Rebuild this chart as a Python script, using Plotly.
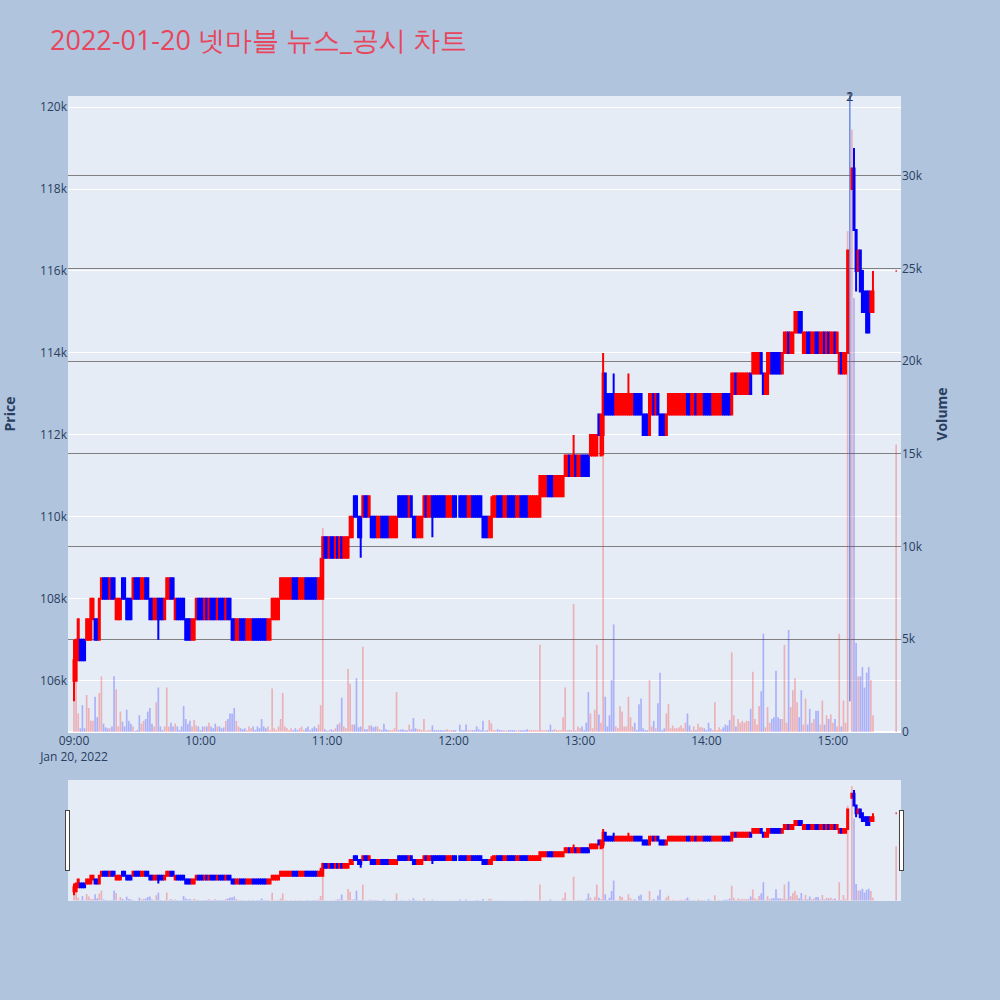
import pandas as pd
import plotly.graph_objects as go
from plotly.subplots import make_subplots

trade_date = "2022-01-20"
title_text = "2022-01-20 넷마블 뉴스_공시 차트"
session_start = "09:00"
session_last_minute = "15:19"
closing_auction_time = "15:30"
news_times = ["15:08", "15:08"]
news_labels = ["1", "2"]

# one-minute bars 09:00 .. 15:19 (None = no trade in that minute)
opens = [
    106000, 106000, 106500, 107000, 107000, 107000, 107000, 107000, 107000, 107500,  # 09:00
    107500, 107500, 107000, 108000, 108500, 108500, 108500, 108000, 108500, 108500,  # 09:10
    107500, 107500, 107500, 108500, 108500, 108000, 108000, 108000, 108000, 108500,  # 09:20
    108500, 108500, 108000, 108000, 108500, 108500, 108000, 108000, 107500, 107500,  # 09:30
    108000, 108000, 108000, 107500, 108000, 108000, 108500, 108500, 107500, 108000,  # 09:40
    108000, 108000, 108000, 107500, 107500, 107500, 107000, 107000, 107500, 108000,  # 09:50
    108000, 108000, 107500, 108000, 107500, 108000, 108000, 108000, 107500, 108000,  # 10:00
    108000, 108000, 107500, 108000, 108000, 107500, 107500, 107000, 107000, 107500,  # 10:10
    107500, 107500, 107000, 107000, 107000, 107500, 107500, 107500, 107500, 107500,  # 10:20
    107500, 107500, 107000, 107000, 107500, 107500, 107500, 107500, 108000, 108000,  # 10:30
    108000, 108000, 108000, 108000, 108500, 108500, 108500, 108000, 108000, 108000,  # 10:40
    108500, 108500, 108500, 108500, 108500, 108500, 108000, 108000, 108000, 109500,  # 10:50
    109500, 109000, 109500, 109500, 109000, 109500, 109000, 109500, 109000, 109000,  # 11:00
    109000, 109500, 109500, 110500, 110500, 110000, 110000, 110000, 110500, 110500,  # 11:10
    110000, 110000, 110000, 110000, 109500, 109500, 110000, 110000, 110000, 110000,  # 11:20
    109500, 109500, 109500, 109500, 110500, 110500, 110500, 110500, 110500, 110000,  # 11:30
    110500, 110000, 110000, 109500, 109500, 109500, 110000, 110500, 110000, 110000,  # 11:40
    110500, 110500, 110500, 110500, 110500, 110500, 110500, 110000, 110000, 110000,  # 11:50
    110500, 110500, None, 110500, 110500, 110500, 110500, 110000, 110000, 110500,    # 12:00
    110500, 110500, 110500, 110500, 110000, 110000, 110000, 109500, 109500, 110000,  # 12:10
    110000, 110500, 110500, 110500, 110000, 110000, 110500, 110500, 110500, 110500,  # 12:20
    110000, 110000, 110500, 110500, 110500, 110500, 110000, 110000, 110000, 110000,  # 12:30
    110000, 110000, 110500, 110500, 110500, 111000, 111000, 111000, 110500, 110500,  # 12:40
    110500, 110500, 110500, 111000, 111000, 111500, 111000, 111000, 111500, 111000,  # 12:50
    111000, 111500, 111500, 111500, 111500, 111500, 111500, 111500, 111500, 112500,  # 13:00
    111500, 112000, 113500, 113000, 113000, 113000, 113000, 112500, 112500, 112500,  # 13:10
    112500, 112500, 112500, 112500, 112500, 112500, 113000, 113000, 113000, 113000,  # 13:20
    112500, 112500, 112500, 112000, 112500, 113000, 112500, 113000, 112500, 112500,  # 13:30
    112500, 112000, 112500, 112500, 112500, 112500, 112500, 112500, 112500, 112500,  # 13:40
    112500, 113000, 113000, 112500, 112500, 113000, 112500, 112500, 112500, 113000,  # 13:50
    113000, 113000, 113000, 112500, 112500, 112500, 112500, 112500, 113000, 113000,  # 14:00
    113000, 113000, 112500, 113000, 113500, 113000, 113000, 113000, 113000, 113000,  # 14:10
    113000, 113500, 113500, 113500, 113500, 113500, 114000, 113500, 113000, 113000,  # 14:20
    113500, 114000, 114000, 114000, 114000, 114000, 113500, 114000, 114000, 114500,  # 14:30
    114000, 114000, 114500, 114500, 115000, 115000, 114000, 114000, 114500, 114500,  # 14:40
    114000, 114000, 114500, 114500, 114000, 114000, 114500, 114000, 114500, 114000,  # 14:50
    114000, 114500, 114000, 113500, 114000, 113500, 113500, 114000, None, 118000,    # 15:00
    118500, 117000, 116000, 116500, 116000, 115500, 115500, 115500, 115000, 115000,  # 15:10
]
highs = [
    107000, 107000, 107500, 107000, 107000, 107000, 107500, 107500, 108000, 108000,
    107500, 107500, 108000, 108500, 108500, 108500, 108500, 108500, 108500, 108500,
    108000, 108000, 108000, 108500, 108500, 108000, 108000, 108000, 108500, 108500,
    108500, 108500, 108500, 108500, 108500, 108500, 108000, 108000, 108000, 108000,
    108000, 108000, 108000, 108000, 108500, 108500, 108500, 108500, 108000, 108000,
    108000, 108000, 108000, 107500, 107500, 107500, 107500, 107500, 108000, 108000,
    108000, 108000, 108000, 108000, 108000, 108000, 108000, 108000, 108000, 108000,
    108000, 108000, 108000, 108000, 108000, 107500, 107500, 107500, 107500, 107500,
    107500, 107500, 107500, 107500, 107500, 107500, 107500, 107500, 107500, 107500,
    107500, 107500, 107500, 107500, 108000, 108000, 108000, 108000, 108500, 108500,
    108500, 108500, 108500, 108500, 108500, 108500, 108500, 108500, 108500, 108500,
    108500, 108500, 108500, 108500, 108500, 108500, 108500, 109000, 109500, 109500,
    109500, 109500, 109500, 109500, 109500, 109500, 109500, 109500, 109500, 109500,
    109500, 110000, 110000, 110500, 110500, 110000, 110000, 110500, 110500, 110500,
    110500, 110000, 110000, 110000, 110000, 110000, 110000, 110000, 110000, 110000,
    110000, 110000, 110000, 110000, 110500, 110500, 110500, 110500, 110500, 110500,
    110500, 110000, 110000, 110000, 110000, 110000, 110500, 110500, 110500, 110500,
    110500, 110500, 110500, 110500, 110500, 110500, 110500, 110500, 110500, 110500,
    110500, 110500, None, 110500, 110500, 110500, 110500, 110500, 110500, 110500,
    110500, 110500, 110500, 110500, 110000, 110000, 110000, 110000, 110500, 110500,
    110500, 110500, 110500, 110500, 110500, 110500, 110500, 110500, 110500, 110500,
    110500, 110500, 110500, 110500, 110500, 110500, 110500, 110500, 110500, 110500,
    110500, 111000, 111000, 111000, 111000, 111000, 111000, 111000, 111000, 111000,
    111000, 111000, 111000, 111500, 111500, 111500, 111500, 112000, 111500, 111500,
    111500, 111500, 111500, 111500, 111500, 112000, 112000, 112000, 112000, 112500,
    112500, 114000, 113500, 113000, 113000, 113000, 113500, 113000, 113000, 113000,
    113000, 113000, 113000, 113500, 113000, 113000, 113000, 113000, 113000, 113000,
    112500, 112500, 112500, 113000, 113000, 113000, 113000, 113000, 112500, 112500,
    112500, 112500, 113000, 113000, 113000, 113000, 113000, 113000, 113000, 113000,
    113000, 113000, 113000, 113000, 113000, 113000, 113000, 113000, 113000, 113000,
    113000, 113000, 113000, 113000, 113000, 113000, 113000, 113000, 113000, 113000,
    113000, 113000, 113500, 113500, 113500, 113500, 113500, 113500, 113500, 113500,
    113500, 113500, 114000, 114000, 114000, 114000, 114000, 113500, 113500, 114000,
    114000, 114000, 114000, 114000, 114000, 114000, 114000, 114500, 114500, 114500,
    114500, 114500, 115000, 115000, 115000, 115000, 114500, 114500, 114500, 114500,
    114500, 114500, 114500, 114500, 114500, 114500, 114500, 114500, 114500, 114500,
    114500, 114500, 114500, 114000, 114000, 114000, 114000, 116500, None, 118500,
    119000, 117000, 116500, 116500, 116000, 115500, 115500, 115500, 115500, 116000,
]
lows = [
    105500, 106000, 106500, 106500, 106500, 106500, 107000, 107000, 107000, 107500,
    107000, 107000, 107000, 108000, 108000, 108000, 108000, 108000, 108000, 108000,
    107500, 107500, 107500, 108000, 108000, 107500, 107500, 107500, 108000, 108000,
    108000, 108000, 108000, 108000, 108000, 108000, 107500, 107500, 107500, 107500,
    107000, 107500, 107500, 107500, 108000, 108000, 108000, 108000, 107500, 107500,
    107500, 107500, 107500, 107000, 107000, 107000, 107000, 107000, 107500, 107500,
    107500, 107500, 107500, 107500, 107500, 107500, 107500, 107500, 107500, 107500,
    107500, 107500, 107500, 107500, 107500, 107000, 107000, 107000, 107000, 107000,
    107000, 107000, 107000, 107000, 107000, 107000, 107000, 107000, 107000, 107000,
    107000, 107000, 107000, 107000, 107500, 107500, 107500, 107500, 108000, 108000,
    108000, 108000, 108000, 108000, 108000, 108000, 108000, 108000, 108000, 108000,
    108000, 108000, 108000, 108000, 108000, 108000, 108000, 108000, 108000, 109000,
    109000, 109000, 109000, 109000, 109000, 109000, 109000, 109000, 109000, 109000,
    109000, 109500, 109500, 110000, 110000, 109500, 109000, 110000, 110000, 110000,
    110000, 109500, 109500, 109500, 109500, 109500, 109500, 109500, 109500, 109500,
    109500, 109500, 109500, 109500, 110000, 110000, 110000, 110000, 110000, 110000,
    110000, 109500, 109500, 109500, 109500, 109500, 110000, 110000, 110000, 110000,
    109500, 110000, 110000, 110000, 110000, 110000, 110000, 110000, 110000, 110000,
    110000, 110000, None, 110000, 110000, 110000, 110000, 110000, 110000, 110000,
    110000, 110000, 110000, 110000, 109500, 109500, 109500, 109500, 109500, 110000,
    110000, 110000, 110000, 110000, 110000, 110000, 110000, 110000, 110000, 110000,
    110000, 110000, 110000, 110000, 110000, 110000, 110000, 110000, 110000, 110000,
    110000, 110000, 110500, 110500, 110500, 110500, 110500, 110500, 110500, 110500,
    110500, 110500, 110500, 111000, 111000, 111000, 111000, 111000, 111000, 111000,
    111000, 111000, 111000, 111000, 111000, 111500, 111500, 111500, 111500, 112000,
    111500, 111500, 112500, 112500, 112500, 112500, 112500, 112500, 112500, 112500,
    112500, 112500, 112500, 112500, 112500, 112500, 112500, 112500, 112500, 112500,
    112000, 112000, 112000, 112000, 112500, 112500, 112500, 112500, 112000, 112000,
    112000, 112000, 112500, 112500, 112500, 112500, 112500, 112500, 112500, 112500,
    112500, 112500, 112500, 112500, 112500, 112500, 112500, 112500, 112500, 112500,
    112500, 112500, 112500, 112500, 112500, 112500, 112500, 112500, 112500, 112500,
    112500, 112500, 112500, 113000, 113000, 113000, 113000, 113000, 113000, 113000,
    113000, 113000, 113500, 113500, 113500, 113500, 113500, 113000, 113000, 113000,
    113500, 113500, 113500, 113500, 113500, 113500, 113500, 114000, 114000, 114000,
    114000, 114000, 114500, 114500, 114500, 114500, 114000, 114000, 114000, 114000,
    114000, 114000, 114000, 114000, 114000, 114000, 114000, 114000, 114000, 114000,
    114000, 114000, 114000, 113500, 113500, 113500, 113500, 114000, None, 118000,
    117000, 115500, 116000, 115500, 115000, 115000, 114500, 114500, 115000, 115000,
]
closes = [
    106500, 107000, 107500, 106500, 106500, 106500, 107500, 107500, 108000, 108000,
    107000, 107000, 108000, 108500, 108000, 108000, 108000, 108500, 108000, 108000,
    108000, 108000, 108000, 108000, 108000, 107500, 107500, 107500, 108500, 108000,
    108000, 108000, 108500, 108500, 108000, 108000, 107500, 107500, 108000, 108000,
    107500, 107500, 107500, 108000, 108500, 108500, 108000, 108000, 108000, 107500,
    107500, 107500, 107500, 107000, 107000, 107000, 107500, 107500, 108000, 107500,
    107500, 107500, 108000, 107500, 108000, 107500, 107500, 107500, 108000, 107500,
    107500, 107500, 108000, 107500, 107500, 107000, 107000, 107500, 107500, 107000,
    107000, 107000, 107500, 107500, 107500, 107000, 107000, 107000, 107000, 107000,
    107000, 107000, 107500, 107500, 108000, 108000, 108000, 108000, 108500, 108500,
    108500, 108500, 108500, 108500, 108000, 108000, 108000, 108500, 108500, 108500,
    108000, 108000, 108000, 108000, 108000, 108000, 108500, 108500, 109500, 109000,
    109000, 109500, 109000, 109000, 109500, 109000, 109500, 109000, 109500, 109500,
    109500, 110000, 110000, 110000, 110000, 109500, 109500, 110500, 110000, 110000,
    110500, 109500, 109500, 109500, 110000, 110000, 109500, 109500, 109500, 109500,
    110000, 110000, 110000, 110000, 110000, 110000, 110000, 110000, 110000, 110500,
    110000, 109500, 109500, 110000, 110000, 110000, 110500, 110000, 110500, 110500,
    110000, 110000, 110000, 110000, 110000, 110000, 110000, 110500, 110500, 110500,
    110000, 110000, None, 110000, 110000, 110000, 110000, 110500, 110500, 110000,
    110000, 110000, 110000, 110000, 109500, 109500, 109500, 110000, 110000, 110500,
    110500, 110000, 110000, 110000, 110500, 110500, 110000, 110000, 110000, 110000,
    110500, 110500, 110000, 110000, 110000, 110000, 110500, 110500, 110500, 110500,
    110500, 111000, 111000, 111000, 111000, 110500, 110500, 110500, 111000, 111000,
    111000, 111000, 111000, 111500, 111500, 111000, 111500, 111500, 111000, 111500,
    111500, 111000, 111000, 111000, 111000, 112000, 112000, 112000, 112000, 112000,
    112500, 113500, 112500, 112500, 112500, 112500, 112500, 113000, 113000, 113000,
    113000, 113000, 113000, 113000, 113000, 113000, 112500, 112500, 112500, 112500,
    112000, 112000, 112000, 113000, 113000, 112500, 113000, 112500, 112000, 112000,
    112000, 112500, 113000, 113000, 113000, 113000, 113000, 113000, 113000, 113000,
    113000, 112500, 112500, 113000, 113000, 112500, 113000, 113000, 113000, 112500,
    112500, 112500, 112500, 113000, 113000, 113000, 113000, 113000, 112500, 112500,
    112500, 112500, 113500, 113500, 113000, 113500, 113500, 113500, 113500, 113500,
    113500, 113000, 114000, 114000, 114000, 114000, 113500, 113000, 113500, 114000,
    114000, 113500, 113500, 113500, 113500, 113500, 114000, 114500, 114500, 114000,
    114500, 114500, 115000, 115000, 114500, 114500, 114500, 114500, 114000, 114000,
    114500, 114500, 114000, 114000, 114500, 114500, 114000, 114500, 114000, 114500,
    114500, 114000, 114500, 114000, 113500, 114000, 114000, 116500, None, 118500,
    117000, 116000, 116500, 115500, 115000, 115000, 114500, 114500, 115500, 115500,
]
volumes = [
    1700, 2800, 1000, 200, 1450, 200, 2000, 1300, 600, 600,
    1900, 800, 2100, 3000, 450, 250, 200, 200, 300, 3000,
    2300, 300, 1100, 550, 300, 1200, 600, 450, 300, 50,
    100, 900, 450, 600, 700, 1100, 1300, 450, 300, 1600,
    2400, 300, 100, 300, 2400, 300, 500, 300, 450, 300,
    100, 300, 1400, 700, 450, 600, 300, 650, 350, 300,
    100, 300, 300, 300, 500, 300, 200, 450, 300, 300,
    200, 250, 600, 700, 1000, 1000, 1300, 600, 300, 200,
    150, 200, 100, 300, 200, 300, 100, 300, 200, 700,
    300, 200, 300, 100, 2350, 200, 100, 300, 700, 2100,
    300, 200, 100, 200, 100, 200, 100, 200, 300, 100,
    200, 300, 100, 200, 300, 200, 400, 1450, 11000, 150,
    70, 100, 150, 100, 200, 400, 500, 1850, 300, 200,
    3400, 2600, 400, 400, 2900, 250, 300, 4600, 150, 150,
    350, 350, 250, 300, 300, 150, 100, 450, 150, 100,
    100, 100, 200, 2150, 100, 130, 150, 100, 100, 400,
    150, 750, 200, 150, 150, 100, 700, 70, 100, 100,
    350, 100, 100, 100, 100, 100, 100, 150, 100, 100,
    100, 100, None, 400, 100, 100, 400, 100, 100, 100,
    100, 300, 150, 100, 600, 70, 100, 650, 470, 100,
    100, 150, 100, 100, 100, 70, 100, 100, 100, 100,
    70, 100, 100, 100, 100, 150, 100, 100, 100, 100,
    100, 4700, 100, 100, 100, 100, 400, 100, 150, 100,
    100, 100, 800, 2400, 100, 100, 100, 6900, 70, 300,
    200, 300, 100, 500, 2150, 1000, 200, 1200, 4700, 950,
    500, 20400, 1900, 300, 900, 2800, 5800, 300, 200, 1400,
    1100, 300, 300, 1900, 800, 300, 500, 100, 1500, 1800,
    200, 100, 100, 2800, 300, 600, 200, 1550, 3200, 100,
    200, 1000, 1500, 200, 350, 200, 200, 250, 350, 200,
    500, 1000, 350, 100, 300, 100, 450, 250, 250, 200,
    100, 500, 200, 100, 1600, 100, 250, 150, 250, 400,
    350, 650, 4300, 900, 300, 700, 500, 600, 500, 600,
    600, 1250, 3250, 700, 400, 1400, 2200, 5300, 250, 1350,
    500, 700, 800, 3300, 800, 700, 700, 4700, 500, 5500,
    1350, 2250, 2900, 1600, 800, 2250, 400, 1800, 400, 1250,
    500, 700, 1150, 1150, 400, 1700, 400, 900, 700, 950,
    500, 700, 300, 5300, 300, 1700, 500, 27000, None, 32500,
    23400, 4800, 3000, 3000, 3500, 2400, 3200, 3500, 2800, 900,
]
# 15:30 closing auction
closing_open, closing_high, closing_low, closing_close, closing_volume = 116000, 116000, 116000, 116000, 15500

# axis ranges
x_range = [f"{trade_date} 08:57:09", f"{trade_date} 15:32:18"]
price_range = [104750, 120270]
volume_range = [0, 34300]

UP_COLOR, DOWN_COLOR = "red", "blue"
UP_VOL, DOWN_VOL = "rgba(255,0,0,0.25)", "rgba(0,0,255,0.25)"

times = list(pd.date_range(f"{trade_date} {session_start}", f"{trade_date} {session_last_minute}", freq="min"))
times.append(pd.Timestamp(f"{trade_date} {closing_auction_time}"))

df = pd.DataFrame({
    "time": times,
    "open": opens + [closing_open],
    "high": highs + [closing_high],
    "low": lows + [closing_low],
    "close": closes + [closing_close],
    "volume": volumes + [closing_volume],
}).dropna()

vol_colors = []
prev_close = None
for o, c in zip(df["open"], df["close"]):
    up = c > o or (c == o and prev_close is not None and c >= prev_close)
    vol_colors.append(UP_VOL if up else DOWN_VOL)
    prev_close = c

fig = make_subplots(specs=[[{"secondary_y": True}]])
fig.add_trace(go.Candlestick(
    x=df["time"], open=df["open"], high=df["high"], low=df["low"], close=df["close"],
    increasing=dict(line=dict(color=UP_COLOR, width=2), fillcolor=UP_COLOR),
    decreasing=dict(line=dict(color=DOWN_COLOR, width=2), fillcolor=DOWN_COLOR),
    name="Price", showlegend=False,
), secondary_y=False)
fig.add_trace(go.Bar(
    x=df["time"], y=df["volume"],
    marker=dict(color=vol_colors, line=dict(width=0)),
    name="Volume", showlegend=False,
), secondary_y=True)

day_low = min(v for v in lows if v is not None)
for t, label in zip(news_times, news_labels):
    ts = f"{trade_date} {t}"
    fig.add_shape(type="line", xref="x", yref="y", x0=ts, x1=ts,
                  y0=day_low, y1=price_range[1],
                  line=dict(color="rgba(65,105,225,0.45)", width=1.5))
    fig.add_annotation(x=ts, y=1, xref="x", yref="paper", text=label,
                       showarrow=False, yanchor="middle",
                       font=dict(size=13, color="#2a3f5f"))

fig.update_layout(
    width=1000, height=1000,
    paper_bgcolor="lightsteelblue",
    plot_bgcolor="#E5ECF6",
    title=dict(text=title_text, x=0.05, xanchor="left", y=0.959, yanchor="middle",
               font=dict(size=27, color="#E8465C")),
    margin=dict(l=68, r=99, t=96, b=100),
    showlegend=False,
)
fig.update_xaxes(range=x_range, showgrid=False, domain=[0, 1],
                 rangeslider=dict(visible=True, range=x_range, thickness=0.15))
fig.update_yaxes(title=dict(text="<b>Price</b>", standoff=22), range=price_range, showgrid=True,
                 gridcolor="white", automargin=False, secondary_y=False)
fig.update_yaxes(title=dict(text="<b>Volume</b>"), range=volume_range, showgrid=True,
                 gridcolor="gray", automargin=False, secondary_y=True)

fig.write_html("out.html", config={"displayModeBar": False},
               post_script="document.body.style.margin='0px';")
